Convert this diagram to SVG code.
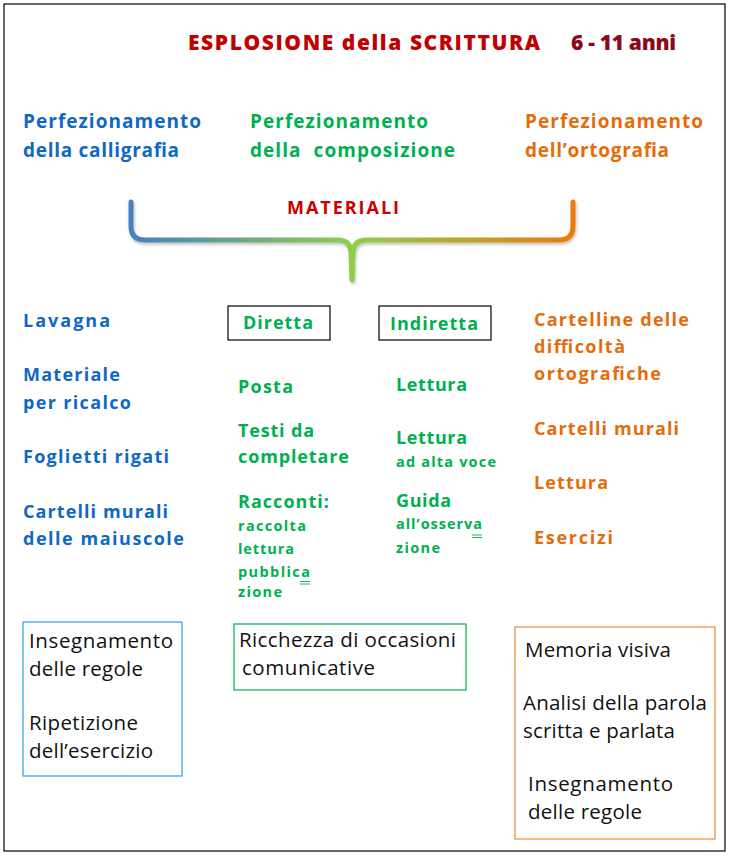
<svg xmlns="http://www.w3.org/2000/svg" width="730" height="860" viewBox="0 0 730 860">
<defs>
<linearGradient id="braceGrad" x1="130" y1="0" x2="574" y2="0" gradientUnits="userSpaceOnUse">
<stop offset="0" stop-color="#4a7fc1"/>
<stop offset="0.5" stop-color="#8fce4a"/>
<stop offset="1" stop-color="#ea7a0c"/>
</linearGradient>
<filter id="shadow" x="-5%" y="-20%" width="110%" height="150%">
<feDropShadow dx="1" dy="2" stdDeviation="1.5" flood-color="#000" flood-opacity="0.25"/>
</filter>
</defs>
<style>
text{font-family:"Open Sans","Noto Sans",sans-serif;}
.t{font-size:21px;font-weight:800;}
.h{font-size:19px;font-weight:700;}
.m{font-size:18px;font-weight:700;}
.s{font-size:14.5px;font-weight:700;}
.r{font-size:20.5px;fill:#111;}
.blue{fill:#0f68c4;}
.green{fill:#00b050;}
.orange{fill:#e46c0a;}
.red{fill:#c00000;}
.box{fill:none;stroke-width:1.2;}
</style>
<rect x="4" y="4" width="721" height="847" fill="#fff" stroke="#000" stroke-width="1.2"/>

<g id="title">
<text x="188" y="50" class="t red" textLength="352">ESPLOSIONE della SCRITTURA</text>
<text x="571" y="50" class="t" fill="#8b0a1a" textLength="105">6 - 11 anni</text>
</g>

<g id="perf-calligrafia">
<text x="23" y="128" class="h blue" textLength="178">Perfezionamento</text>
<text x="23" y="157" class="h blue" textLength="156">della calligrafia</text>
</g>
<g id="perf-composizione">
<text x="250" y="128" class="h green" textLength="178">Perfezionamento</text>
<text x="250" y="157" class="h green" xml:space="preserve" textLength="205">della  composizione</text>
</g>
<g id="perf-ortografia">
<text x="525" y="128" class="h orange" textLength="178">Perfezionamento</text>
<text x="525" y="157" class="h orange" textLength="144">dell’ortografia</text>
</g>

<g id="materiali">
<text x="287" y="214" class="m" fill="#cc0000" textLength="112">MATERIALI</text>
</g>

<g id="connectors">
<path d="M131,202 L131,226 Q131,240 145,240 L338,240 Q350,240 351,252 L352,280 L353,252 Q354,240 366,240 L559,240 Q573,240 573,226 L573,202" fill="none" stroke="url(#braceGrad)" stroke-width="5" stroke-linecap="round" stroke-linejoin="round" filter="url(#shadow)"/>
</g>

<g id="materiali-calligrafia">
<text x="23" y="327" class="m blue" textLength="87">Lavagna</text>
<text x="23" y="381" class="m blue" textLength="97">Materiale</text>
<text x="23" y="409" class="m blue" textLength="108">per ricalco</text>
<text x="23" y="463" class="m blue" textLength="146">Foglietti rigati</text>
<text x="23" y="518" class="m blue" textLength="145">Cartelli murali</text>
<text x="23" y="545" class="m blue" textLength="161">delle maiuscole</text>
</g>

<g id="diretta">
<rect x="228" y="306" width="102" height="34" class="box" stroke="#000"/>
<text x="243" y="329" class="m green" textLength="70">Diretta</text>
</g>
<g id="indiretta">
<rect x="379" y="306" width="112" height="34" class="box" stroke="#000"/>
<text x="390" y="330" class="m green" textLength="88">Indiretta</text>
</g>

<g id="materiali-diretta">
<text x="238" y="393" class="m green" textLength="55">Posta</text>
<text x="238" y="437" class="m green" textLength="76">Testi da</text>
<text x="238" y="463" class="m green" textLength="111">completare</text>
<text x="238" y="508" class="m green" textLength="91">Racconti:</text>
<text x="238" y="531" class="s green" textLength="68">raccolta</text>
<text x="238" y="554" class="s green" textLength="56">lettura</text>
<text x="238" y="577" class="s green" textLength="72">pubblica</text>
<text x="238" y="597" class="s green" textLength="44">zione</text>
<path d="M300,581.5 H310 M300,584 H310" stroke="#00b050" stroke-width="0.9"/>
</g>

<g id="materiali-indiretta">
<text x="396" y="391" class="m green" textLength="71">Lettura</text>
<text x="396" y="444" class="m green" textLength="71">Lettura</text>
<text x="396" y="467" class="s green" textLength="100">ad alta voce</text>
<text x="396" y="507" class="m green" textLength="55">Guida</text>
<text x="396" y="529" class="s green" textLength="86">all’osserva</text>
<text x="396" y="553" class="s green" textLength="44">zione</text>
<path d="M472,535 H482 M472,537.5 H482" stroke="#00b050" stroke-width="0.9"/>
</g>

<g id="materiali-ortografia">
<text x="534" y="326" class="m orange" textLength="155">Cartelline delle</text>
<text x="534" y="353" class="m orange" textLength="91">difficoltà</text>
<text x="534" y="380" class="m orange" textLength="127">ortografiche</text>
<text x="534" y="435" class="m orange" textLength="145">Cartelli murali</text>
<text x="534" y="489" class="m orange" textLength="74">Lettura</text>
<text x="534" y="544" class="m orange" textLength="79">Esercizi</text>
</g>

<g id="box-calligrafia">
<rect x="23" y="622" width="159" height="154" class="box" stroke="#2aa0e8"/>
<text x="29" y="648" class="r" textLength="144">Insegnamento</text>
<text x="29" y="676" class="r" textLength="114">delle regole</text>
<text x="29" y="730" class="r" textLength="109">Ripetizione</text>
<text x="29" y="758" class="r" textLength="124">dell’esercizio</text>
</g>
<g id="box-composizione">
<rect x="234" y="624" width="232" height="66" class="box" stroke="#00b050"/>
<text x="239" y="647" class="r" textLength="217">Ricchezza di occasioni</text>
<text x="242" y="675" class="r" textLength="133">comunicative</text>
</g>
<g id="box-ortografia">
<rect x="515" y="627" width="200" height="212" class="box" stroke="#f08a30"/>
<text x="525" y="657" class="r" textLength="146">Memoria visiva</text>
<text x="523" y="710" class="r" textLength="184">Analisi della parola</text>
<text x="523" y="738" class="r" textLength="152">scritta e parlata</text>
<text x="528" y="791" class="r" textLength="145">Insegnamento</text>
<text x="528" y="819" class="r" textLength="114">delle regole</text>
</g>
</svg>
